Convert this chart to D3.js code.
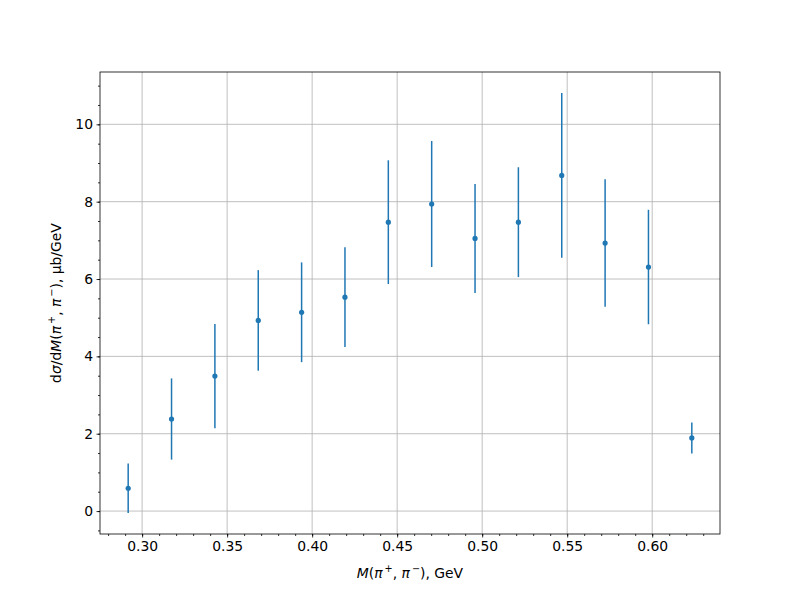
<!DOCTYPE html>
<html><head><meta charset="utf-8">
<script src="https://cdn.jsdelivr.net/npm/d3@7"></script>
<style>body{margin:0;background:#fff}svg{display:block}</style>
</head><body>
<script>
// Data
const massGeV = [0.2918, 0.3173, 0.3428, 0.3683, 0.3938, 0.4193, 0.4448, 0.4703, 0.4958, 0.5213, 0.5468, 0.5723, 0.5978, 0.6233];
const dSigma  = [0.59, 2.38, 3.49, 4.93, 5.14, 5.53, 7.47, 7.94, 7.05, 7.47, 8.68, 6.93, 6.31, 1.89];
const dSigmaErr = [0.64, 1.05, 1.35, 1.30, 1.29, 1.29, 1.60, 1.63, 1.41, 1.42, 2.13, 1.65, 1.48, 0.40];
const xTickValues = [0.30, 0.35, 0.40, 0.45, 0.50, 0.55, 0.60];
const yTickValues = [0, 2, 4, 6, 8, 10];

const W = 800, H = 600;
const m = {left: 100, right: 720, top: 72, bottom: 534};
const color = "#1f77b4";
const font = "DejaVu Sans";
const fs = 13.9;

const svg = d3.select("body").append("svg").attr("width", W).attr("height", H)
  .style("font-family", font);
svg.append("rect").attr("width", W).attr("height", H).attr("fill", "#fff");

// matplotlib-like 5% margins
const xmin = d3.min(massGeV), xmax = d3.max(massGeV);
const xpad = (xmax - xmin) * 0.05;
const ylo = d3.min(dSigma.map((v, i) => v - dSigmaErr[i]));
const yhi = d3.max(dSigma.map((v, i) => v + dSigmaErr[i]));
const ypad = (yhi - ylo) * 0.05;

const x = d3.scaleLinear().domain([xmin - xpad, xmax + xpad]).range([m.left, m.right]);
const y = d3.scaleLinear().domain([ylo - ypad, yhi + ypad]).range([m.bottom, m.top]);

// grid
const grid = svg.append("g");
grid.selectAll(".gx").data(xTickValues).join("line")
  .attr("x1", d => x(d)).attr("x2", d => x(d)).attr("y1", m.top).attr("y2", m.bottom)
  .attr("stroke", "#b0b0b0").attr("stroke-width", 0.8);
grid.selectAll(".gy").data(yTickValues).join("line")
  .attr("y1", d => y(d)).attr("y2", d => y(d)).attr("x1", m.left).attr("x2", m.right)
  .attr("stroke", "#b0b0b0").attr("stroke-width", 0.8);

// axes
const xMinor = d3.range(0.28, 0.641, 0.01).filter(v => v >= x.domain()[0] && v <= x.domain()[1]);
const yMinor = d3.range(-0.5, 11.01, 0.5).filter(v => v >= y.domain()[0] && v <= y.domain()[1]);

const xAxis = svg.append("g").attr("transform", `translate(0,${m.bottom})`)
  .call(d3.axisBottom(x).tickValues(xTickValues).tickFormat(d3.format(".2f")).tickSizeOuter(0).tickSize(3.5).tickPadding(3.5));
const xAxisMinor = svg.append("g").attr("transform", `translate(0,${m.bottom})`)
  .call(d3.axisBottom(x).tickValues(xMinor).tickFormat("").tickSizeOuter(0).tickSize(2));
const yAxis = svg.append("g").attr("transform", `translate(${m.left},0)`)
  .call(d3.axisLeft(y).tickValues(yTickValues).tickFormat(d3.format("d")).tickSizeOuter(0).tickSize(3.5).tickPadding(3.5));
const yAxisMinor = svg.append("g").attr("transform", `translate(${m.left},0)`)
  .call(d3.axisLeft(y).tickValues(yMinor).tickFormat("").tickSizeOuter(0).tickSize(2));

[xAxis, xAxisMinor, yAxis, yAxisMinor].forEach(g => {
  g.select(".domain").remove();
  g.selectAll(".tick line").attr("stroke", "#000").attr("stroke-width", 0.8);
  g.selectAll("text").attr("font-family", font).attr("font-size", fs).attr("fill", "#000");
});

// error bars and points
const pts = svg.append("g");
pts.selectAll("line.err").data(massGeV).join("line").attr("class", "err")
  .attr("x1", d => x(d)).attr("x2", d => x(d))
  .attr("y1", (d, i) => y(dSigma[i] - dSigmaErr[i]))
  .attr("y2", (d, i) => y(dSigma[i] + dSigmaErr[i]))
  .attr("stroke", color).attr("stroke-width", 1.5);
pts.selectAll("circle").data(massGeV).join("circle")
  .attr("cx", d => x(d)).attr("cy", (d, i) => y(dSigma[i])).attr("r", 2.6)
  .attr("fill", color);

// spines
svg.append("rect").attr("x", m.left).attr("y", m.top)
  .attr("width", m.right - m.left).attr("height", m.bottom - m.top)
  .attr("fill", "none").attr("stroke", "#000").attr("stroke-width", 0.8);

// x label: M(π⁺, π⁻), GeV
const xl = svg.append("text").attr("x", (m.left + m.right) / 2).attr("y", 578)
  .attr("text-anchor", "middle").attr("font-size", fs).attr("fill", "#000");
xl.append("tspan").attr("font-style", "italic").text("M");
xl.append("tspan").text("(");
xl.append("tspan").attr("font-style", "italic").text("π");
xl.append("tspan").attr("font-size", fs * 0.7).attr("dy", -6).text("\u2009+");
xl.append("tspan").attr("dy", 6).text(", ");
xl.append("tspan").attr("font-style", "italic").text("π");
xl.append("tspan").attr("font-size", fs * 0.7).attr("dy", -6).text("\u2009\u2212");
xl.append("tspan").attr("dy", 6).text("), GeV");

// y label: dσ/dM(π⁺, π⁻), μb/GeV
const yl = svg.append("text")
  .attr("transform", `translate(61,${(m.top + m.bottom) / 2}) rotate(-90)`)
  .attr("text-anchor", "middle").attr("font-size", fs).attr("fill", "#000");
yl.append("tspan").text("d");
yl.append("tspan").attr("font-style", "italic").text("σ");
yl.append("tspan").text("/d");
yl.append("tspan").attr("font-style", "italic").text("M");
yl.append("tspan").text("(");
yl.append("tspan").attr("font-style", "italic").text("π");
yl.append("tspan").attr("font-size", fs * 0.7).attr("dy", -6).text("\u2009+");
yl.append("tspan").attr("dy", 6).text(", ");
yl.append("tspan").attr("font-style", "italic").text("π");
yl.append("tspan").attr("font-size", fs * 0.7).attr("dy", -6).text("\u2009\u2212");
yl.append("tspan").attr("dy", 6).text("), μb/GeV");
</script>
</body></html>
